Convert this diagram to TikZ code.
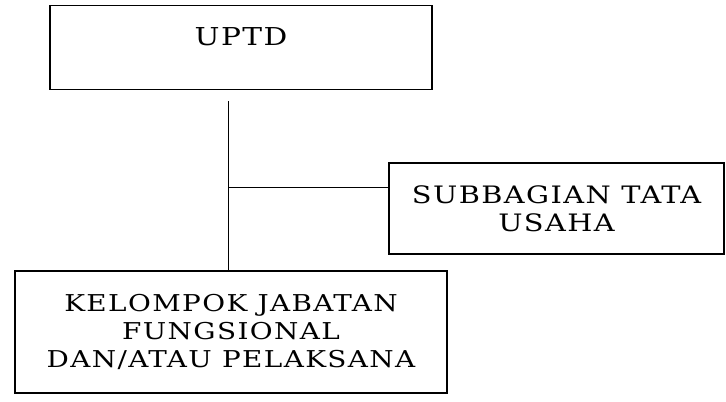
\documentclass[tikz,border=0pt]{standalone}
\usepackage{fontspec}
\setmainfont{DejaVu Serif}[LetterSpace=6, FakeStretch=1.2]

\tikzset{every picture/.style={line width=0.75pt}}
\tikzset{orgbox/.style={draw, line width=1.1pt, align=center, inner sep=0pt, font=\fontsize{17.4}{21}\selectfont}}

\begin{document}
\begin{tikzpicture}[x=0.75pt,y=0.75pt,yscale=-1,xscale=1]

\useasboundingbox (0,0) rectangle (726,401);

% boxes
\node [orgbox, anchor=north, minimum width=382*0.75pt, text height=29.5pt, text depth=33.5pt, font=\fontsize{18.5}{21}\selectfont] (uptd) at (241,5) {UPTD};

\node [orgbox, minimum width=335*0.75pt, minimum height=91*0.75pt, text height=39pt, text depth=4pt, font=\fontsize{18}{21}\selectfont] (subbag) at (556.5,208.5) {SUBBAGIAN TATA\\USAHA};

\node [orgbox, minimum width=432*0.75pt, minimum height=122*0.75pt] (kjf) at (231,332) {KELOMPOK JABATAN\\FUNGSIONAL\\DAN/ATAU PELAKSANA};

% lines
\coordinate (top) at (228,101);
\coordinate (junc) at (228,187);

\draw (top) -- (top |- kjf.north);
\draw (junc) -- (junc -| subbag.west);

\end{tikzpicture}
\end{document}
